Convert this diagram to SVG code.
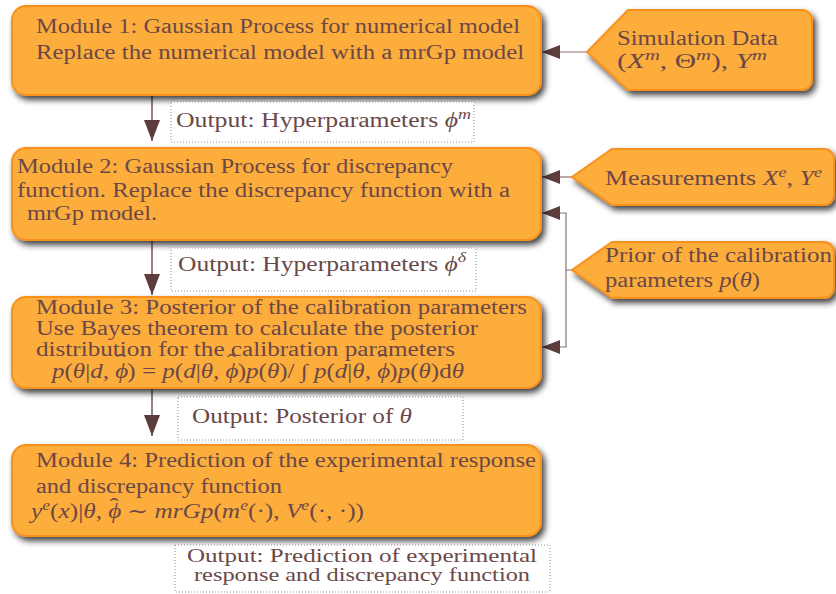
<svg xmlns="http://www.w3.org/2000/svg" width="836" height="594" viewBox="0 0 836 594">
<defs>
<filter id="sh" x="-10%" y="-20%" width="125%" height="150%">
<feDropShadow dx="3" dy="4" stdDeviation="3" flood-color="#000" flood-opacity="0.75"/>
</filter>
<marker id="ad" markerUnits="userSpaceOnUse" markerWidth="22" markerHeight="16" refX="21" refY="8" orient="auto"><path d="M0,0 L21,8 L0,16 z" fill="#5C3C3C"/></marker>
<marker id="ah" markerUnits="userSpaceOnUse" markerWidth="19" markerHeight="14" refX="18" refY="7" orient="auto"><path d="M0,0 L18,7 L0,14 z" fill="#5C3C3C"/></marker>
<style>
.box{fill:#FDAD3B;stroke:#F8901C;stroke-width:2;filter:url(#sh)}
.out{fill:#fff;stroke:#8f8f8f;stroke-width:1;stroke-dasharray:1 2}
.t{font-family:"Liberation Serif","DejaVu Serif",serif;font-size:20px;fill:#6B4848}
.s{font-size:19px}
.i{font-style:italic}
.sup{font-size:14px;font-style:italic}
.hat{font-size:22px;font-style:normal}
.dn{stroke:#5C3C3C;stroke-width:1.3;fill:none}
.ln{stroke:#8E7474;stroke-width:1.2;fill:none}
</style>
</defs>

<g id="connectors">
<path class="dn" d="M152,96 V141" marker-end="url(#ad)"/>
<path class="dn" d="M152,241 V295" marker-end="url(#ad)"/>
<path class="dn" d="M152,389 V436" marker-end="url(#ad)"/>
<path class="ln" d="M587,52 H542" marker-end="url(#ah)"/>
<path class="ln" d="M572,177 H542" marker-end="url(#ah)"/>
<path class="ln" d="M572,270 H566 V213 H542" marker-end="url(#ah)"/>
<path class="ln" d="M566,270 V347 H542" marker-end="url(#ah)"/>
</g>

<g id="module1">
<rect class="box" x="12" y="6" width="529" height="89" rx="14"/>
<text class="t" x="36" y="33" textLength="484" lengthAdjust="spacingAndGlyphs">Module 1: Gaussian Process for numerical model</text>
<text class="t" x="36" y="59" textLength="488" lengthAdjust="spacingAndGlyphs">Replace the numerical model with a mrGp model</text>
</g>

<g id="simdata">
<path class="box" d="M587,52 L628,10 H802 A10,10 0 0 1 812,20 V80 A10,10 0 0 1 802,90 H628 Z"/>
<text class="t" x="617" y="45" textLength="161" lengthAdjust="spacingAndGlyphs">Simulation Data</text>
<text class="t" x="617" y="68" textLength="150" lengthAdjust="spacingAndGlyphs">(<tspan class="i">X</tspan><tspan class="sup" dy="-8">m</tspan><tspan dy="8">, Θ</tspan><tspan class="sup" dy="-8">m</tspan><tspan dy="8">), </tspan><tspan class="i">Y</tspan><tspan class="sup" dy="-8">m</tspan></text>
</g>

<g id="output1">
<rect class="out" x="171" y="102" width="303" height="40"/>
<text class="t" x="176" y="127" textLength="295" lengthAdjust="spacingAndGlyphs">Output: Hyperparameters <tspan class="i">ϕ</tspan><tspan class="sup" dy="-8">m</tspan></text>
</g>

<g id="module2">
<rect class="box" x="12" y="148" width="529" height="92" rx="14"/>
<text class="t" x="17" y="173" textLength="436" lengthAdjust="spacingAndGlyphs">Module 2: Gaussian Process for discrepancy</text>
<text class="t" x="17" y="197" textLength="493" lengthAdjust="spacingAndGlyphs">function. Replace the discrepancy function with a</text>
<text class="t" x="27" y="220" textLength="130" lengthAdjust="spacingAndGlyphs">mrGp model.</text>
</g>

<g id="measurements">
<path class="box" d="M572,177 L612,149 H824 A10,10 0 0 1 834,159 V195 A10,10 0 0 1 824,205 H612 Z"/>
<text class="t" x="605" y="185" textLength="217" lengthAdjust="spacingAndGlyphs">Measurements <tspan class="i">X</tspan><tspan class="sup" dy="-8">e</tspan><tspan dy="8">, </tspan><tspan class="i">Y</tspan><tspan class="sup" dy="-8">e</tspan></text>
</g>

<g id="prior">
<path class="box" d="M572,270 L612,242 H824 A10,10 0 0 1 834,252 V288 A10,10 0 0 1 824,298 H612 Z"/>
<text class="t" x="605" y="262" textLength="227" lengthAdjust="spacingAndGlyphs">Prior of the calibration</text>
<text class="t" x="605" y="287" textLength="155" lengthAdjust="spacingAndGlyphs">parameters <tspan class="i">p</tspan>(<tspan class="i">θ</tspan>)</text>
</g>

<g id="output2">
<rect class="out" x="171" y="248" width="305" height="43"/>
<text class="t" x="178" y="271" textLength="288" lengthAdjust="spacingAndGlyphs">Output: Hyperparameters <tspan class="i">ϕ</tspan><tspan class="sup" dy="-9">δ</tspan></text>
</g>

<g id="module3">
<rect class="box" x="12" y="297" width="529" height="91" rx="14"/>
<text class="t" x="36" y="314" textLength="491" lengthAdjust="spacingAndGlyphs">Module 3: Posterior of the calibration parameters</text>
<text class="t" x="36" y="335" textLength="442" lengthAdjust="spacingAndGlyphs">Use Bayes theorem to calculate the posterior</text>
<text class="t" x="36" y="356" textLength="419" lengthAdjust="spacingAndGlyphs">distribution for the calibration parameters</text>
<text class="t" x="52" y="378" textLength="412" lengthAdjust="spacingAndGlyphs"><tspan class="i">p</tspan>(<tspan class="i">θ</tspan>|<tspan class="i">d, ϕ</tspan><tspan class="hat" dx="-9.5" dy="-9">ˆ</tspan><tspan dx="1.5" dy="9">) = </tspan><tspan class="i">p</tspan>(<tspan class="i">d</tspan>|<tspan class="i">θ, ϕ</tspan><tspan class="hat" dx="-9.5" dy="-9">ˆ</tspan><tspan dx="1.5" dy="9">)</tspan><tspan class="i">p</tspan>(<tspan class="i">θ</tspan>)/ ∫ <tspan class="i">p</tspan>(<tspan class="i">d</tspan>|<tspan class="i">θ, ϕ</tspan><tspan class="hat" dx="-9.5" dy="-9">ˆ</tspan><tspan dx="1.5" dy="9">)</tspan><tspan class="i">p</tspan>(<tspan class="i">θ</tspan>)d<tspan class="i">θ</tspan></text>
</g>

<g id="output3">
<rect class="out" x="178" y="397" width="285" height="43"/>
<text class="t" x="192" y="423" textLength="220" lengthAdjust="spacingAndGlyphs">Output: Posterior of <tspan class="i">θ</tspan></text>
</g>

<g id="module4">
<rect class="box" x="12" y="445" width="529" height="91" rx="14"/>
<text class="t" x="36" y="467" textLength="500" lengthAdjust="spacingAndGlyphs">Module 4: Prediction of the experimental response</text>
<text class="t" x="36" y="493" textLength="246" lengthAdjust="spacingAndGlyphs">and discrepancy function</text>
<text class="t" x="31" y="518" textLength="333" lengthAdjust="spacingAndGlyphs"><tspan class="i">y</tspan><tspan class="sup" dy="-8">e</tspan><tspan dy="8">(</tspan><tspan class="i">x</tspan>)|<tspan class="i">θ, ϕ</tspan><tspan class="hat" dx="-9.5" dy="-5">ˆ</tspan><tspan dx="1.5" dy="5"> ∼ </tspan><tspan class="i">mrGp</tspan>(<tspan class="i">m</tspan><tspan class="sup" dy="-8">e</tspan><tspan dy="8">(·), </tspan><tspan class="i">V</tspan><tspan class="sup" dy="-8">e</tspan><tspan dy="8">(·, ·))</tspan></text>
</g>

<g id="output4">
<rect class="out" x="175" y="545" width="375" height="47"/>
<text class="t s" x="362" y="562" text-anchor="middle" textLength="350" lengthAdjust="spacingAndGlyphs">Output: Prediction of experimental</text>
<text class="t s" x="362" y="581" text-anchor="middle" textLength="336" lengthAdjust="spacingAndGlyphs">response and discrepancy function</text>
</g>
</svg>
